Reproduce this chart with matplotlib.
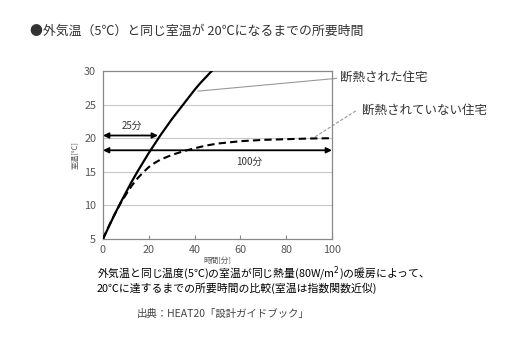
import matplotlib
matplotlib.use("Agg")
import matplotlib.pyplot as plt

plt.rcParams['font.family'] = ['Noto Sans CJK JP', 'DejaVu Sans']

# Data
t_insulated = [0, 2.5, 5, 7.5, 10, 12.5, 15, 17.5, 20, 22.5, 25, 27.5, 30,
               32.5, 35, 37.5, 40, 42.5, 45, 47.5, 50]
T_insulated = [5, 6.8, 8.6, 10.3, 11.9, 13.5, 15.0, 16.4, 17.8, 19.1, 20.4, 21.6, 22.8,
               23.9, 25.0, 26.1, 27.2, 28.2, 29.1, 30.0, 30.9]

t_uninsulated = [0, 2.5, 5, 7.5, 10, 12.5, 15, 17.5, 20, 22.5, 25, 30, 35, 40, 45,
                 50, 60, 70, 80, 90, 100]
T_uninsulated = [5, 6.9, 8.6, 10.2, 11.6, 12.9, 14.0, 14.9, 15.7, 16.3, 16.8, 17.5, 18.05,
                 18.5, 18.9, 19.2, 19.55, 19.75, 19.85, 19.95, 20.0]

x_ticks = [0, 20, 40, 60, 80, 100]
y_ticks = [5, 10, 15, 20, 25, 30]

arrow25 = (0, 24, 20.4)     # start, end, level
arrow100 = (0, 100, 18.2)

fig = plt.figure(figsize=(5.16, 3.38), dpi=100)
ax = fig.add_axes([0.1996, 0.2929, 0.4438, 0.4971])

ax.set_xlim(0, 100)
ax.set_ylim(5, 30)
for y in y_ticks[1:-1]:
    ax.axhline(y, color='#c8c8c8', lw=0.8, zorder=0)

ax.plot(t_insulated, T_insulated, color='black', lw=1.6, zorder=3)
ax.plot(t_uninsulated, T_uninsulated, color='black', lw=1.5, ls=(0, (3.5, 2)), zorder=3)

ax.annotate('', xy=(arrow25[1], arrow25[2]), xytext=(arrow25[0], arrow25[2]),
            arrowprops=dict(arrowstyle='<|-|>', color='black', lw=1.3,
                            mutation_scale=8, shrinkA=0, shrinkB=0), zorder=4)
ax.text(12.5, 21.9, '25分', ha='center', va='center', fontsize=7, color='#333333')

ax.annotate('', xy=(arrow100[1], arrow100[2]), xytext=(arrow100[0], arrow100[2]),
            arrowprops=dict(arrowstyle='<|-|>', color='black', lw=1.3,
                            mutation_scale=8, shrinkA=0, shrinkB=0), zorder=4)
ax.text(64, 16.5, '100分', ha='center', va='center', fontsize=7, color='#333333')

ax.set_xticks(x_ticks)
ax.set_yticks(y_ticks)
ax.tick_params(axis='x', direction='in', length=3, color='#888888', labelsize=7.8,
               labelcolor='#555555', pad=4)
ax.tick_params(axis='y', length=0, labelsize=7.8, labelcolor='#555555', pad=5)
for s in ax.spines.values():
    s.set_color('#888888')
    s.set_linewidth(0.9)

ax.set_xlabel('時間[分]', fontsize=5.5, color='#555555', labelpad=2)
ax.set_ylabel('室温[℃]', fontsize=5.5, color='#555555', labelpad=3)

# Leader lines and labels
ax.plot([41.5, 102], [27.0, 28.9], color='#999999', lw=0.8, clip_on=False, zorder=2)
ax.plot([92.6, 111], [20.2, 24.2], color='#999999', lw=0.8, ls=(0, (3, 1.5)),
        clip_on=False, zorder=2)
fig.text(340 / 516, 1 - 77 / 338, '断熱された住宅', fontsize=9, color='#333333',
         ha='left', va='center')
fig.text(362 / 516, 1 - 110 / 338, '断熱されていない住宅', fontsize=9, color='#333333',
         ha='left', va='center')

fig.text(30 / 516, 1 - 31 / 338, '●外気温（5℃）と同じ室温が 20℃になるまでの所要時間',
         fontsize=9.3, color='#333333', ha='left', va='center')

fig.text(97 / 516, 1 - 274 / 338,
         '外気温と同じ温度(5℃)の室温が同じ熱量(80W/m$^2$)の暖房によって、',
         fontsize=7.8, color='black', ha='left', va='center')
fig.text(97 / 516, 1 - 288 / 338,
         '20℃に達するまでの所要時間の比較(室温は指数関数近似)',
         fontsize=7.8, color='black', ha='left', va='center')
fig.text(137 / 516, 1 - 314 / 338, '出典：HEAT20「設計ガイドブック」',
         fontsize=7.5, color='#444444', ha='left', va='center')

fig.savefig('out.png', dpi=100)
